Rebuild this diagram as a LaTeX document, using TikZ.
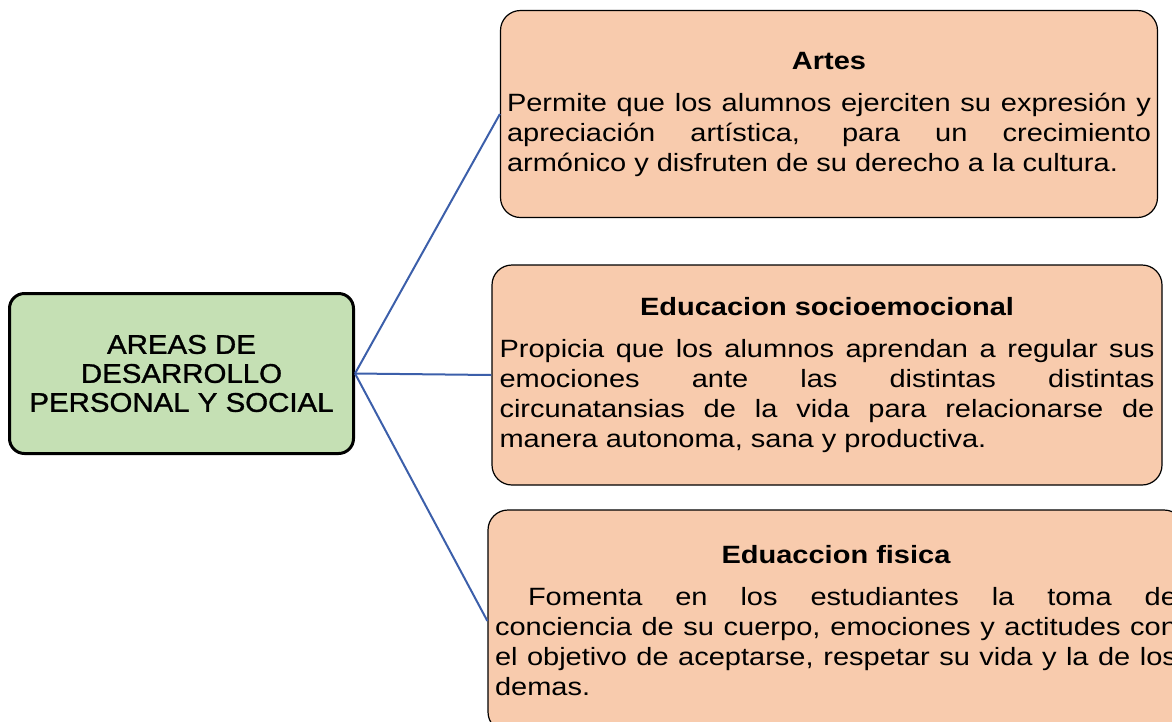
\documentclass[tikz,border=0pt]{standalone}
\usepackage{fontspec}
\setmainfont{Liberation Sans}[FakeStretch=1.16]
\newfontfamily\areafont{Liberation Sans}[FakeStretch=1.09,FakeBold=1.2]
\usepackage{xcolor}
\usetikzlibrary{positioning}
\definecolor{areagreen}{RGB}{197,224,180}
\definecolor{areapeach}{RGB}{248,203,173}
\definecolor{linkblue}{RGB}{60,95,170}
\tikzset{%
	mainbox/.style = {draw, line width=3pt, rounded corners=15pt, fill=areagreen, minimum width=344pt, minimum height=160pt, align=center, font=\areafont\fontsize{27}{29}\selectfont},
	areabox/.style = {draw, line width=1.2pt, rounded corners=20pt, fill=areapeach, align=justify, inner sep=0pt, font=\fontsize{25}{30}\selectfont, execute at begin node={\setlength{\parindent}{0pt}\tolerance=10000}},
	link/.style    = {line width=2pt, linkblue},
}
\begin{document}
\begin{tikzpicture}[x=1pt,y=-1pt]
	\useasboundingbox (0,0) rectangle (1172,721);
	\clip (0,0) rectangle (1172,721);
	\node[mainbox] (areas) at (181.5,373.5) {AREAS DE\\DESARROLLO\\PERSONAL Y SOCIAL};
	\node[areabox, minimum width=657pt, minimum height=207pt, text width=644pt] (artes) at (829,114) {%
		{\centering\bfseries Artes\par}\vspace{12pt}
		Permite que los alumnos ejerciten su expresión y\linebreak
		apreciación artística, para un crecimiento\linebreak
		armónico y disfruten de su derecho a la cultura.\par};
	\node[areabox, minimum width=670pt, minimum height=220pt, text width=655pt] (socio) at (827,375) {%
		{\centering\bfseries Educacion socioemocional\par}\vspace{12pt}
		Propicia que los alumnos aprendan a regular sus\linebreak
		emociones ante las distintas distintas\linebreak
		circunatansias de la vida para relacionarse de\linebreak
		manera autonoma, sana y productiva.\par};
	\node[areabox, minimum width=696pt, minimum height=222pt, text width=682pt] (fisica) at (836,621) {%
		{\centering\bfseries Eduaccion fisica\par}\vspace{12pt}
		\hspace*{33pt}Fomenta en los estudiantes la toma de\linebreak
		conciencia de su cuerpo, emociones y actitudes con\linebreak
		el objetivo de aceptarse, respetar su vida y la de los\linebreak
		demas.\par};
	% conectores
	\draw[link] (areas.east) -- (artes.west);
	\draw[link] (areas.east) -- (socio.west);
	\draw[link] (areas.east) -- (fisica.west);
\end{tikzpicture}
\end{document}
